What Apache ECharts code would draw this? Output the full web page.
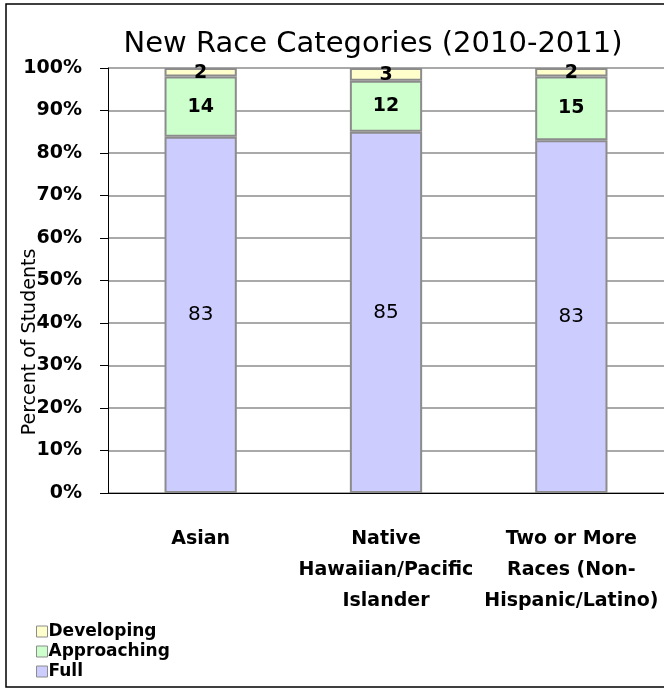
<!DOCTYPE html>
<html>
<head>
<meta charset="utf-8">
<script src="https://cdn.jsdelivr.net/npm/echarts@6/dist/echarts.min.js"></script>
<style>
  html, body { margin: 0; padding: 0; background: #fff; }
  #chart { width: 664px; height: 696px; }
</style>
</head>
<body>
<div id="chart"></div>
<script>
const categories = ['Asian', 'Native\nHawaiian/Pacific\nIslander', 'Two or More\nRaces (Non-\nHispanic/Latino)']
const full = [83, 85, 83]
const approaching = [14, 12, 15]
const developing = [2, 3, 2]
const yTicks = [0, 10, 20, 30, 40, 50, 60, 70, 80, 90, 100]

// share of each category total, so each bar fills 100%
const totals = categories.map((c, i) => full[i] + approaching[i] + developing[i])
const pct = arr => arr.map((v, i) => ({ value: v / totals[i] * 100, raw: v }))

const font = 'DejaVu Sans, sans-serif'

const chart = echarts.init(document.getElementById('chart'), null, { renderer: 'canvas' })

const makeSeries = (name, arr, color, labelOpts) => ({
  name,
  type: 'bar',
  stack: 'total',
  barWidth: '39%',
  data: pct(arr),
  itemStyle: { color, borderColor: '#8c8c8c', borderWidth: 2 },
  label: Object.assign({
    show: true,
    position: 'inside',
    color: '#000',
    fontFamily: font,
    fontSize: 20,
    formatter: p => p.data.raw
  }, labelOpts || {})
})

chart.setOption({
  backgroundColor: '#fff',
  animation: false,
  title: {
    text: 'New Race Categories (2010-2011)',
    left: 368,
    top: 25,
    textAlign: 'center',
    textStyle: { fontFamily: font, fontSize: 29, fontWeight: 'normal', color: '#000' }
  },
  graphic: [{
    type: 'rect',
    shape: { x: 6, y: 4, width: 680, height: 683 },
    style: { fill: 'none', stroke: '#000', lineWidth: 1.5 },
    silent: true
  }, {
    type: 'text',
    x: 30,
    y: 342,
    rotation: Math.PI / 2,
    silent: true,
    style: {
      text: 'Percent of Students',
      fontFamily: font,
      fontSize: 19,
      fill: '#000',
      align: 'center',
      verticalAlign: 'middle'
    }
  }],
  legend: {
    orient: 'vertical',
    left: 31,
    top: 618,
    itemWidth: 11,
    itemHeight: 11,
    itemGap: 3,
    icon: 'rect',
    data: ['Developing', 'Approaching', 'Full'],
    textStyle: { fontFamily: font, fontSize: 17, fontWeight: 'bold', color: '#000', padding: [0, 0, 0, -4] },
    itemStyle: { borderColor: '#8c8c8c', borderWidth: 1 }
  },
  grid: { left: 108, top: 68, width: 562, height: 425 },
  xAxis: {
    type: 'category',
    data: categories,
    axisLine: { lineStyle: { color: '#000', width: 1 } },
    axisTick: { show: false },
    axisLabel: {
      interval: 0,
      margin: 31,
      fontFamily: font,
      fontSize: 19,
      fontWeight: 'bold',
      color: '#000',
      lineHeight: 31
    }
  },
  yAxis: {
    type: 'value',
    min: 0,
    max: 100,
    interval: 10,
    axisLine: { show: true, lineStyle: { color: '#000', width: 1 } },
    axisTick: { show: true, length: 8, lineStyle: { color: '#000' } },
    axisLabel: {
      fontFamily: font,
      fontSize: 19,
      fontWeight: 'bold',
      color: '#000',
      margin: 26,
      formatter: v => yTicks.includes(v) ? v + '%' : ''
    },
    splitLine: { lineStyle: { color: '#8c8c8c', width: 1.5 } }
  },
  series: [
    makeSeries('Full', full, '#ccccff'),
    makeSeries('Approaching', approaching, '#ccffcc', { fontWeight: 'bold', fontSize: 19 }),
    makeSeries('Developing', developing, '#ffffcc', { fontWeight: 'bold', fontSize: 19, offset: [0, 1] })
  ]
})
</script>
</body>
</html>
